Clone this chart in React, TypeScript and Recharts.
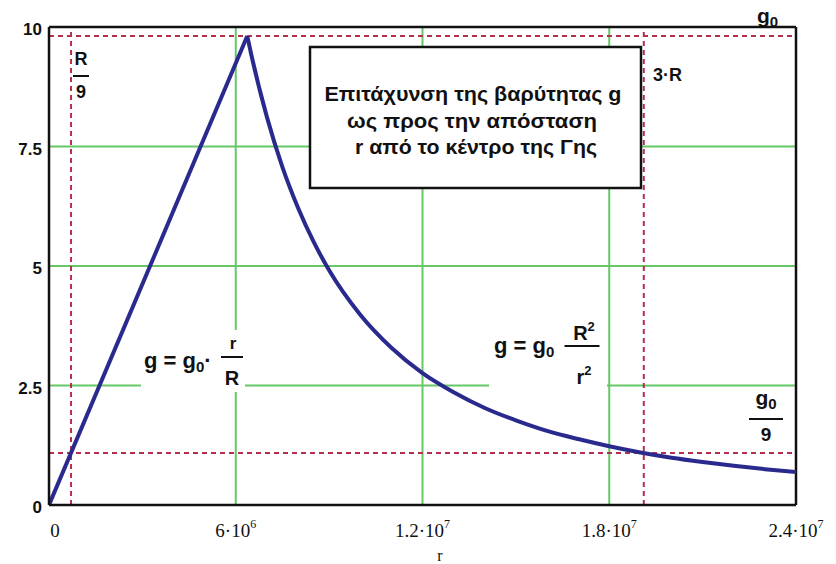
import { LineChart, Line, XAxis, YAxis, CartesianGrid, ReferenceLine } from "recharts";

// g inside the Earth (linear) and outside it (inverse square)
const insideR = [0, 6.37e6];
const insideG = [0, 9.81];

const outsideR = [
  6.37e6, 6.5e6, 7e6, 7.5e6, 8e6, 8.5e6, 9e6, 1e7, 1.1e7, 1.2e7, 1.3e7, 1.4e7,
  1.5e7, 1.6e7, 1.7e7, 1.8e7, 1.9e7, 2e7, 2.1e7, 2.2e7, 2.3e7, 2.4e7,
];
const outsideG = [
  9.81, 9.42, 8.12, 7.07, 6.22, 5.51, 4.91, 3.98, 3.29, 2.76, 2.36, 2.03, 1.77,
  1.55, 1.38, 1.23, 1.1, 0.99, 0.9, 0.82, 0.75, 0.69,
];

// dashed marker lines: R/9 and 3R on r, g0 and g0/9 on g
const markerR = [7.08e5, 1.911e7];
const markerG = [9.81, 1.09];

const xTicks = [0, 6e6, 1.2e7, 1.8e7, 2.4e7];
const xTickBase = ["0", "6·10", "1.2·10", "1.8·10", "2.4·10"];
const xTickExp = ["", "6", "7", "7", "7"];
const yTicks = [0, 2.5, 5, 7.5, 10];
const yTickLabels = ["0", "2.5", "5", "7.5", "10"];

const boxLines = [
  "Επιτάχυνση της βαρύτητας g",
  "ως προς την απόσταση",
  "r από το κέντρο της Γης",
];

const insideData = insideR.map((r, i) => ({ r, g: insideG[i] }));
const outsideData = outsideR.map((r, i) => ({ r, g: outsideG[i] }));

const curveColor = "#2a2a8e";
const gridColor = "#66c766";
const dashColor = "#b5304e";
const sans = "'Liberation Sans', Arial, sans-serif";
const serif = "'Liberation Serif', 'Times New Roman', serif";

function XTick(props: any) {
  const { x, y, payload } = props;
  const i = xTicks.indexOf(payload.value);
  return (
    <text
      x={x + (i === 0 ? 6 : 0)}
      y={y + 30}
      textAnchor="middle"
      fontFamily={serif}
      fontSize={19}
      fill="#111"
    >
      {xTickBase[i]}
      {xTickExp[i] && (
        <tspan dy={-9} fontSize={12}>
          {xTickExp[i]}
        </tspan>
      )}
    </text>
  );
}

function YTick(props: any) {
  const { x, y, payload } = props;
  const i = yTicks.indexOf(payload.value);
  return (
    <text
      x={x}
      y={y + 8}
      textAnchor="end"
      fontFamily={sans}
      fontWeight="bold"
      fontSize={17}
      fill="#111"
    >
      {yTickLabels[i]}
    </text>
  );
}

function Fraction({ x, top, bar, bottom, w }: any) {
  return (
    <g>
      {top}
      <line x1={x - w / 2} x2={x + w / 2} y1={bar} y2={bar} stroke="#111" strokeWidth={2} />
      {bottom}
    </g>
  );
}

function Overlay() {
  const t = { fontFamily: sans, fontWeight: "bold" as const, fill: "#111" };
  return (
    <svg
      width={836}
      height={564}
      style={{ position: "absolute", left: 0, top: 0, pointerEvents: "none" }}
    >
      {/* title box */}
      <rect x={310} y={47} width={331} height={141} fill="#fff" stroke="#111" strokeWidth={2.5} />
      <text x={473} y={101} textAnchor="middle" fontSize={21} textLength={297} lengthAdjust="spacingAndGlyphs" {...t}>
        {boxLines[0]}
      </text>
      <text x={472} y={128} textAnchor="middle" fontSize={21} textLength={250} lengthAdjust="spacingAndGlyphs" {...t}>
        {boxLines[1]}
      </text>
      <text x={476} y={154} textAnchor="middle" fontSize={21} textLength={242} lengthAdjust="spacingAndGlyphs" {...t}>
        {boxLines[2]}
      </text>

      {/* R/9 */}
      <Fraction
        x={81}
        w={16}
        bar={76}
        top={<text x={81} y={65} textAnchor="middle" fontSize={18} {...t}>R</text>}
        bottom={<text x={81} y={98} textAnchor="middle" fontSize={18} {...t}>9</text>}
      />

      {/* g0 top right */}
      <text x={757} y={23} fontSize={21} {...t}>
        g<tspan dy={4} fontSize={15}>0</tspan>
      </text>

      {/* 3R */}
      <text x={653} y={81} fontSize={18} {...t}>3·R</text>

      {/* g0/9 */}
      <Fraction
        x={766}
        w={34}
        bar={419}
        top={
          <text x={766} y={405} textAnchor="middle" fontSize={21} {...t}>
            g<tspan dy={4} fontSize={15}>0</tspan>
          </text>
        }
        bottom={<text x={766} y={441} textAnchor="middle" fontSize={19} {...t}>9</text>}
      />

      {/* g = g0 r / R */}
      <rect x={141} y={330} width={104} height={62} fill="#fff" />
      <text x={144} y={368} fontSize={22} {...t}>
        g = g<tspan dy={4} fontSize={15}>0</tspan>
        <tspan dy={-4}>·</tspan>
      </text>
      <Fraction
        x={232}
        w={22}
        bar={357}
        top={<text x={233} y={349} textAnchor="middle" fontSize={17} {...t}>r</text>}
        bottom={<text x={232} y={385} textAnchor="middle" fontSize={20} {...t}>R</text>}
      />

      {/* g = g0 R^2 / r^2 */}
      <rect x={489} y={312} width={118} height={78} fill="#fff" />
      <text x={494} y={353} fontSize={22} {...t}>
        g = g<tspan dy={4} fontSize={15}>0</tspan>
      </text>
      <Fraction
        x={582}
        w={35}
        bar={346}
        top={
          <text x={584} y={340} textAnchor="middle" fontSize={20} {...t}>
            R<tspan dy={-9} fontSize={13}>2</tspan>
          </text>
        }
        bottom={
          <text x={584} y={384} textAnchor="middle" fontSize={20} {...t}>
            r<tspan dy={-9} fontSize={13}>2</tspan>
          </text>
        }
      />

      {/* axis title */}
      <text x={440} y={561} textAnchor="middle" fontFamily={serif} fontSize={16} fill="#111">
        r
      </text>
    </svg>
  );
}

export default function App() {
  return (
    <div style={{ position: "absolute", left: 0, top: 0, width: 836, height: 564, background: "#fff" }}>
      <LineChart width={836} height={564} margin={{ top: 27, right: 40, left: 0, bottom: 0 }}>
        <CartesianGrid stroke={gridColor} strokeWidth={2} />
        <XAxis
          type="number"
          dataKey="r"
          domain={[0, 2.4e7]}
          ticks={xTicks}
          height={59}
          tickSize={0}
          tick={<XTick />}
          axisLine={{ stroke: "#111", strokeWidth: 2.5 }}
          allowDataOverflow
        />
        <YAxis
          type="number"
          dataKey="g"
          domain={[0, 10]}
          ticks={yTicks}
          width={49}
          tickSize={0}
          tickMargin={7}
          tick={<YTick />}
          axisLine={{ stroke: "#111", strokeWidth: 2.5 }}
          allowDataOverflow
        />
        {markerR.map((v) => (
          <ReferenceLine key={"r" + v} x={v} stroke={dashColor} strokeWidth={2} strokeDasharray="5 4" />
        ))}
        {markerG.map((v) => (
          <ReferenceLine key={"g" + v} y={v} stroke={dashColor} strokeWidth={2} strokeDasharray="5 4" />
        ))}
        <ReferenceLine y={10} stroke="#111" strokeWidth={2.5} />
        <ReferenceLine x={2.4e7} stroke="#111" strokeWidth={2.5} />
        <Line
          data={insideData}
          dataKey="g"
          type="linear"
          stroke={curveColor}
          strokeWidth={4}
          dot={false}
          activeDot={false}
          isAnimationActive={false}
        />
        <Line
          data={outsideData}
          dataKey="g"
          type="monotone"
          stroke={curveColor}
          strokeWidth={4}
          dot={false}
          activeDot={false}
          isAnimationActive={false}
        />
      </LineChart>
      <Overlay />
    </div>
  );
}
